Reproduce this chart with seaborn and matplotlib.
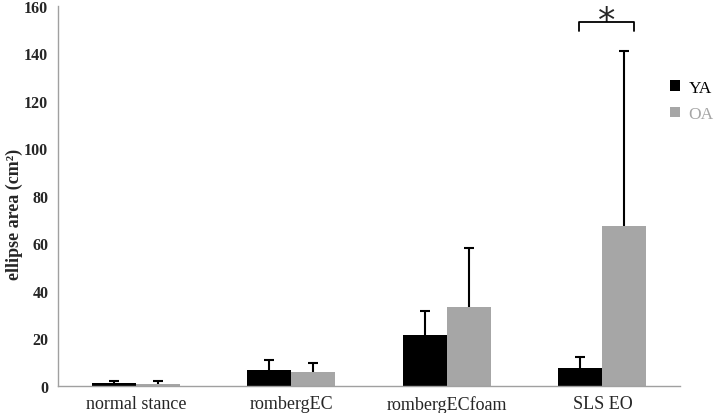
import numpy as np
import pandas as pd
import matplotlib
matplotlib.use('Agg')
import matplotlib.pyplot as plt
import seaborn as sns

# data
conditions = ['normal stance', 'rombergEC', 'rombergECfoam', 'SLS EO']
groups = ['YA', 'OA']
ya_mean = [1.0, 6.4, 21.2, 7.3]
ya_sd = [0.9, 4.3, 10.2, 4.7]
oa_mean = [0.8, 5.7, 33.1, 67.3]
oa_sd = [1.0, 4.0, 25.0, 73.7]

COLOR_YA = '#000000'
COLOR_OA = '#a6a6a6'
COLOR_AXIS = '#a0a0a0'

df = pd.DataFrame({
    'condition': conditions * 2,
    'group': ['YA'] * 4 + ['OA'] * 4,
    'area': ya_mean + oa_mean,
    'sd': ya_sd + oa_sd,
})

sns.set_style('white')
plt.rcParams['font.family'] = ['Liberation Serif', 'DejaVu Serif']

fig = plt.figure(figsize=(7.16, 4.14), dpi=100)
ax = fig.add_axes([0.081, 0.066, 0.869, 0.918])

sns.barplot(data=df, x='condition', y='area', hue='group', order=conditions,
            hue_order=groups, palette=[COLOR_YA, COLOR_OA], width=0.566,
            errorbar=None, saturation=1, linewidth=0, ax=ax)

# upward-only error bars with caps
for cont, grp in zip(ax.containers, groups):
    sub = df[df['group'] == grp].set_index('condition').loc[conditions]
    xs = [p.get_x() + p.get_width() / 2 for p in cont.patches]
    vals = sub['area'].values
    errs = sub['sd'].values
    eb = ax.errorbar(xs, vals, yerr=[np.zeros_like(errs), errs], fmt='none',
                     ecolor='black', elinewidth=1.5, capsize=3.5, capthick=1.5, zorder=5)
    for cl in eb.lines[1]:
        if np.allclose(cl.get_ydata(), vals):
            cl.set_visible(False)

ax.set_ylim(0, 160)
ax.set_xlim(-0.5, 3.5)
ax.set_yticks(np.arange(0, 161, 20))
ax.set_xlabel('')
ax.set_ylabel('ellipse area (cm²)', fontsize=13, fontweight='bold')
ax.yaxis.set_label_coords(-0.057, 0.453)

for s in ['top', 'right']:
    ax.spines[s].set_visible(False)
for s in ['left', 'bottom']:
    ax.spines[s].set_color(COLOR_AXIS)
    ax.spines[s].set_linewidth(1.0)

ax.tick_params(axis='y', direction='out', length=4, color=COLOR_AXIS, labelsize=11.5, pad=3)
for lbl in ax.get_yticklabels():
    lbl.set_fontweight('bold')
ax.tick_params(axis='x', which='major', length=0, labelsize=13, pad=7)
ax.set_xticks([0.5, 1.5, 2.5], minor=True)
ax.tick_params(axis='x', which='minor', direction='out', length=5, color=COLOR_AXIS)

# significance bracket over SLS EO
bx0, bx1 = 2.849, 3.203
ax.plot([bx0, bx0, bx1, bx1], [149.5, 153, 153, 149.5], color='black', lw=1.3,
        clip_on=False, zorder=6)
ax.text((bx0 + bx1) / 2, 149.5, '*', ha='center', va='baseline', fontsize=25,
        family='DejaVu Sans', clip_on=False)

# legend
handles, labels = ax.get_legend_handles_labels()
leg = ax.legend(handles, labels, loc='upper left', bbox_to_anchor=(0.936, 0.805),
                bbox_transform=fig.transFigure, frameon=False, fontsize=12.5,
                handlelength=0.55, handleheight=0.55, handletextpad=0.5,
                labelspacing=0.6, borderaxespad=0, borderpad=0)
for txt, c in zip(leg.get_texts(), ['black', COLOR_OA]):
    txt.set_color(c)

fig.savefig('out.png', dpi=100)
